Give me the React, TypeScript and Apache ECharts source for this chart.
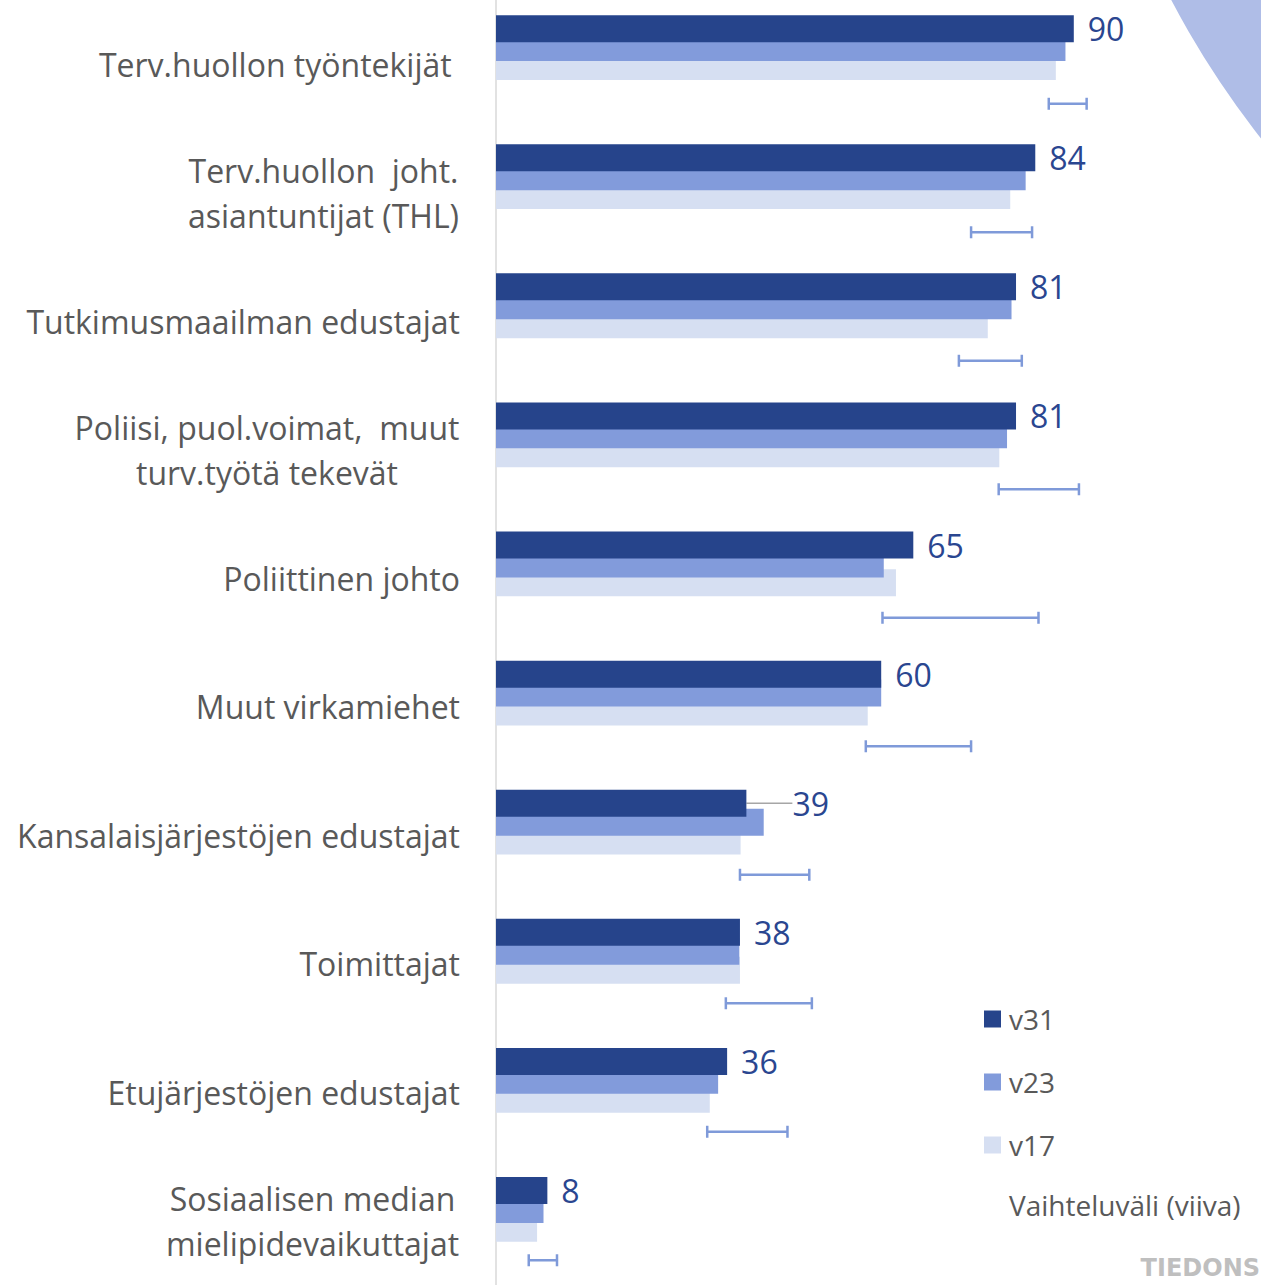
import React, { useEffect, useRef } from 'react';
import * as echarts from 'echarts';

// ---------- data ----------
const categories: string[] = [
  'Terv.huollon työntekijät\u00a0',
  'Terv.huollon \u00a0joht.\nasiantuntijat (THL)',
  'Tutkimusmaailman edustajat',
  'Poliisi, puol.voimat, \u00a0muut\nturv.työtä tekevät',
  'Poliittinen johto',
  'Muut virkamiehet',
  'Kansalaisjärjestöjen edustajat',
  'Toimittajat',
  'Etujärjestöjen edustajat',
  'Sosiaalisen median\nmielipidevaikuttajat',
];
const seriesNames = ['v31', 'v23', 'v17'];
const v31 = [90, 84, 81, 81, 65, 60, 39, 38, 36, 8];
const v23 = [88.7, 82.5, 80.3, 79.6, 60.4, 60.0, 41.7, 37.9, 34.6, 7.4];
const v17 = [87.2, 80.1, 76.6, 78.4, 62.3, 57.9, 38.1, 38.0, 33.3, 6.4];
const rangeLow = [86.1, 74.0, 72.1, 78.3, 60.2, 57.6, 38.0, 35.8, 32.9, 5.1];
const rangeHigh = [92.0, 83.5, 81.9, 90.8, 84.5, 74.0, 48.8, 49.2, 45.4, 9.5];
const legendNote = 'Vaihteluväli (viiva)';
const sourceMark = 'TIEDONS';
const movedLabelIndex = 6;

// ---------- style ----------
const FONT = '"Open Sans", sans-serif';
const C_DARK = '#26448b';
const C_MID = '#829bdb';
const C_LIGHT = '#d6dff2';
const C_RANGE = '#7f9ad9';
const C_TEXT = '#595959';
const C_LABEL = '#2a4690';
const SHIFT = 17; // the chart box starts SHIFT px above the page

export default function App() {
  const ref = useRef<HTMLDivElement>(null);

  useEffect(() => {
    if (!ref.current) return;
    const chart = echarts.init(ref.current, undefined, { renderer: 'svg' });

    const canvas = document.createElement('canvas');
    const ctx = canvas.getContext('2d')!;
    ctx.font = `32px ${FONT}`;
    const measure = (t: string) => ctx.measureText(t).width;

    const rich: Record<string, any> = {};
    categories.forEach((c, i) => {
      const lines = c.split('\n');
      if (lines.length > 1) {
        const w = Math.ceil(Math.max(...lines.map(measure))) + 1;
        rich['c' + i] = {
          width: w,
          align: 'center',
          fontSize: 32,
          lineHeight: 45,
          color: C_TEXT,
          fontFamily: FONT,
        };
      }
    });

    const gridLeft = 496;
    const gridWidth = 642;
    const gridHeight = 1291;

    const option: any = {
      animation: false,
      grid: [
        { left: gridLeft, top: 0, width: gridWidth, height: gridHeight },
        { left: gridLeft, top: SHIFT, width: gridWidth, height: gridHeight },
      ],
      xAxis: [
        { type: 'value', gridIndex: 0, min: 0, max: 100, show: false },
        { type: 'value', gridIndex: 1, min: 0, max: 100, show: false },
      ],
      yAxis: [
        { type: 'category', gridIndex: 0, data: categories, inverse: true, show: false },
        {
          type: 'category',
          gridIndex: 1,
          data: categories,
          inverse: true,
          axisLine: { show: true, lineStyle: { color: '#d9d9d9', width: 1.5 } },
          axisTick: { show: false },
          splitLine: { show: false },
          axisLabel: {
            margin: 36,
            align: 'right',
            fontSize: 32,
            lineHeight: 45,
            color: C_TEXT,
            fontFamily: FONT,
            rich,
            formatter: (value: string, index: number) => {
              const lines = value.split('\n');
              if (lines.length > 1) return lines.map((l) => `{c${index}|${l}}`).join('\n');
              return value;
            },
          },
        },
      ],
      legend: {
        data: seriesNames,
        orient: 'vertical',
        left: 984,
        top: 1005 + SHIFT,
        itemWidth: 17,
        itemHeight: 17,
        itemGap: 35,
        padding: 0,
        icon: 'rect',
        selectedMode: false,
        textStyle: {
          fontSize: 28,
          lineHeight: 28,
          color: C_TEXT,
          fontFamily: FONT,
          padding: [0, 0, 0, 3],
        },
      },
      graphic: [
        {
          type: 'circle',
          silent: true,
          z: -10,
          shape: { cx: 1970, cy: -419 + SHIFT, r: 902 },
          style: { fill: '#afbde7' },
        },
        {
          type: 'text',
          left: 1009,
          top: 1191 + SHIFT,
          style: { text: legendNote, fontSize: 28, fill: C_TEXT, fontFamily: FONT },
        },
        {
          type: 'text',
          right: 1,
          top: 1256 + SHIFT,
          style: {
            text: sourceMark,
            fontSize: 24,
            fontWeight: 'bold',
            fill: '#bfbfbf',
            fontFamily: '"DejaVu Sans", sans-serif',
          },
        },
      ],
      series: [
        {
          name: seriesNames[0],
          type: 'bar',
          xAxisIndex: 0,
          yAxisIndex: 0,
          barWidth: 27,
          barGap: '-30%',
          z: 4,
          itemStyle: { color: C_DARK },
          data: v31.map((v, i) =>
            i === movedLabelIndex
              ? { value: v, labelLine: { show: true, lineStyle: { color: '#a6a6a6', width: 1.5 } } }
              : v
          ),
          label: {
            show: true,
            position: 'right',
            distance: 14,
            fontSize: 32,
            color: C_LABEL,
            fontFamily: FONT,
          },
          labelLayout: (p: any) => (p.dataIndex === movedLabelIndex ? { dx: 32 } : {}),
        },
        {
          name: seriesNames[1],
          type: 'bar',
          xAxisIndex: 0,
          yAxisIndex: 0,
          barWidth: 27,
          barGap: '-30%',
          z: 3,
          itemStyle: { color: C_MID },
          data: v23,
        },
        {
          name: seriesNames[2],
          type: 'bar',
          xAxisIndex: 0,
          yAxisIndex: 0,
          barWidth: 27,
          barGap: '-30%',
          z: 2,
          itemStyle: { color: C_LIGHT },
          data: v17,
        },
        {
          name: 'range',
          type: 'custom',
          xAxisIndex: 1,
          yAxisIndex: 1,
          z: 2,
          data: categories.map((_, i) => [i, rangeLow[i], rangeHigh[i]]),
          encode: { y: 0, x: [1, 2] },
          renderItem: (params: any, api: any) => {
            const cat = api.value(0);
            const a = api.coord([api.value(1), cat]);
            const b = api.coord([api.value(2), cat]);
            const band = api.size([0, 1])[1];
            const y = a[1] + band * 0.3075;
            const cap = 6;
            const style = { stroke: C_RANGE, lineWidth: 2.5 };
            return {
              type: 'group',
              children: [
                { type: 'line', shape: { x1: a[0], y1: y, x2: b[0], y2: y }, style },
                { type: 'line', shape: { x1: a[0], y1: y - cap, x2: a[0], y2: y + cap }, style },
                { type: 'line', shape: { x1: b[0], y1: y - cap, x2: b[0], y2: y + cap }, style },
              ],
            };
          },
        },
      ],
    };

    chart.setOption(option);
    return () => chart.dispose();
  }, []);

  return (
    <div style={{ position: 'fixed', left: 0, top: 0, width: 1261, height: 1285, overflow: 'hidden', background: '#fff' }}>
      <div
        ref={ref}
        style={{ position: 'absolute', left: 0, top: -SHIFT, width: 1261, height: 1285 + SHIFT }}
      />
    </div>
  );
}
